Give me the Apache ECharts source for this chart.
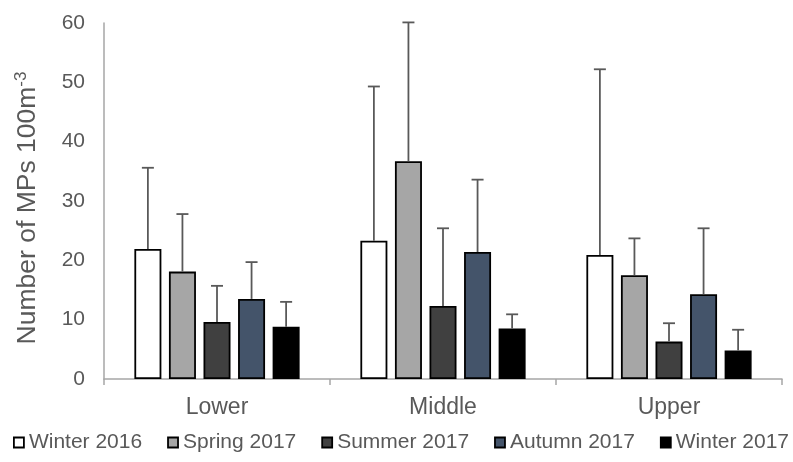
<!DOCTYPE html>
<html>
<head>
<meta charset="utf-8">
<script src="https://cdn.jsdelivr.net/npm/echarts@6/dist/echarts.min.js"></script>
<style>
  html, body { margin: 0; padding: 0; background: #fff; }
  #main { width: 793px; height: 462px; }
</style>
</head>
<body>
<div id="main"></div>
<script>
var myChart = echarts.init(document.getElementById('main'));

// 分区
var sites = ['Lower', 'Middle', 'Upper'];
var seasons = ['Winter 2016', 'Spring 2017', 'Summer 2017', 'Autumn 2017', 'Winter 2017'];
var colors = ['#ffffff', '#a6a6a6', '#404040', '#44546a', '#000000'];

// 平均值（每个季节一组，顺序 Lower, Middle, Upper）
var winter2016 = [21.9, 23.3, 20.9];
var spring2017 = [18.1, 36.7, 17.5];
var summer2017 = [9.6, 12.3, 6.3];
var autumn2017 = [13.5, 21.4, 14.3];
var winter2017 = [8.8, 8.5, 4.8];

// 误差（只画上半边）
var winter2016Err = [13.7, 26.0, 31.3];
var spring2017Err = [9.7, 23.4, 6.2];
var summer2017Err = [6.1, 13.1, 3.1];
var autumn2017Err = [6.2, 12.2, 11.1];
var winter2017Err = [4.2, 2.4, 3.5];

var yTicks = [0, 10, 20, 30, 40, 50, 60];

var means = [winter2016, spring2017, summer2017, autumn2017, winter2017];
var errs = [winter2016Err, spring2017Err, summer2017Err, autumn2017Err, winter2017Err];

var barWidth = 27;
var barGap = 0.28;
var pitch = barWidth * (1 + barGap);

var series = [];
seasons.forEach(function (name, k) {
  series.push({
    name: name,
    type: 'bar',
    barWidth: barWidth,
    barGap: (barGap * 100) + '%',
    itemStyle: { color: colors[k], borderColor: '#000', borderWidth: 1.8 },
    data: means[k]
  });
});
// 误差线
seasons.forEach(function (name, k) {
  series.push({
    name: name + ' err',
    type: 'custom',
    z: 5,
    renderItem: function (params, api) {
      var cx = api.coord([api.value(0), 0])[0] + (k - 2) * pitch;
      var yBase = api.coord([api.value(0), api.value(1)])[1];
      var yTop = api.coord([api.value(0), api.value(1) + api.value(2)])[1];
      var style = { stroke: '#595959', lineWidth: 1.8 };
      return {
        type: 'group',
        children: [
          { type: 'line', shape: { x1: cx, y1: yBase, x2: cx, y2: yTop }, style: style },
          { type: 'line', shape: { x1: cx - 6, y1: yTop, x2: cx + 6, y2: yTop }, style: style }
        ]
      };
    },
    data: sites.map(function (s, i) { return [i, means[k][i], errs[k][i]]; })
  });
});

var option = {
  animation: false,
  grid: { left: 104, right: 11, top: 23, bottom: 83 },
  legend: {
    data: seasons,
    left: 13,
    top: 432,
    width: 790,
    padding: 0,
    itemWidth: 10,
    itemHeight: 10,
    itemGap: 25,
    icon: 'rect',
    itemStyle: { borderColor: '#000', borderWidth: 1.8 },
    textStyle: { fontFamily: 'Liberation Sans', fontSize: 21, color: '#595959' }
  },
  xAxis: {
    type: 'category',
    data: sites,
    axisLine: { lineStyle: { color: '#a6a6a6', width: 1.5 } },
    axisTick: { show: true, length: 6, lineStyle: { color: '#a6a6a6', width: 1.5 } },
    axisLabel: { fontFamily: 'Liberation Sans', fontSize: 23, color: '#595959', margin: 17 }
  },
  yAxis: {
    type: 'value',
    min: yTicks[0],
    max: yTicks[yTicks.length - 1],
    interval: 10,
    name: 'Number of MPs 100m{sup|-3}',
    nameLocation: 'middle',
    nameGap: 62,
    nameTextStyle: {
      fontFamily: 'Liberation Sans', fontSize: 26.5, color: '#595959',
      padding: [0, 14, 0, 0],
      rich: { sup: { fontFamily: 'Liberation Sans', fontSize: 17, color: '#595959', verticalAlign: 'top', padding: [0, 0, 12, 0] } }
    },
    splitLine: { show: false },
    axisLine: { show: true, lineStyle: { color: '#a6a6a6', width: 1.5 } },
    axisTick: { show: false },
    axisLabel: { fontFamily: 'Liberation Sans', fontSize: 21, color: '#595959', margin: 19 }
  },
  series: series
};

myChart.setOption(option);
</script>
</body>
</html>
